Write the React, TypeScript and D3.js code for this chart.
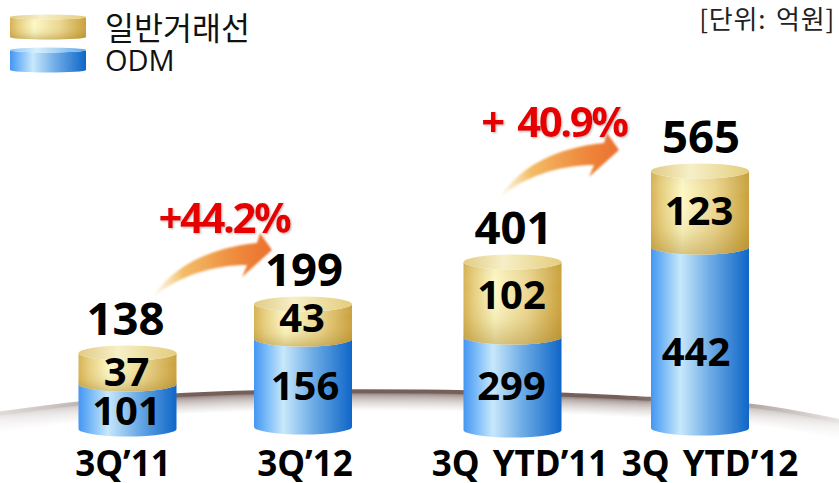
import React, { useEffect, useRef } from "react";
import * as d3 from "d3";

const categories = ["3Q’11", "3Q’12", "3Q YTD’11", "3Q YTD’12"];
const odmValues = [101, 156, 299, 442];
const generalValues = [37, 43, 102, 123];
const totals = [138, 199, 401, 565];
const growthLabels = ["+44.2%", "+ 40.9%"];
const legendLabels = ["일반거래선", "ODM"];
const unitLabel = "[단위: 억원]";

const WIDTH = 839;
const HEIGHT = 483;
const BAR_W = 98;
const CAP_RY = 7.5;
const LATIN = "'Open Sans', 'Noto Sans CJK KR', sans-serif";
const KOREAN = "'Noto Sans CJK KR', sans-serif";

// the source graphic is hand drawn, segment height is not proportional to value,
// so the height scale is piecewise to follow what the picture shows
const segmentHeight = d3.scaleLinear()
    .domain([0, 37, 43, 101, 102, 123, 156, 299, 442])
    .range([0, 31, 35, 45, 75, 76, 88, 93, 181]);

const xCenter = d3.scaleOrdinal<string, number>().domain(categories).range([127.5, 303, 512.5, 700]);
const yBase = d3.scaleOrdinal<string, number>().domain(categories).range([429, 427, 430, 428]);
const xLabel = d3.scaleOrdinal<string, number>().domain(categories).range([123, 305, 520, 710]);

// small label shifts from the segment middle, they were placed by hand in the original
const nudge = {
    odm: [4, 2, 2, 14],
    general: [3, -4, -5, 1],
};
const odmShiftX = [0, 3, 0, -3];

function cylinderPath(cx: number, top: number, bottom: number, w: number, ry: number) {
    const l = cx - w / 2;
    const r = cx + w / 2;
    const rx = w / 2;
    return `M${l},${top} L${l},${bottom} A${rx},${ry} 0 0 0 ${r},${bottom} L${r},${top} A${rx},${ry} 0 0 1 ${l},${top} Z`;
}

function addGradient(defs: any, id: string, stops: [number, string, number?][], vertical = false) {
    const g = defs.append("linearGradient")
        .attr("id", id)
        .attr("x1", 0).attr("y1", 0)
        .attr("x2", vertical ? 0 : 1).attr("y2", vertical ? 1 : 0);
    stops.forEach(([o, c, a]) => {
        g.append("stop")
            .attr("offset", o)
            .attr("stop-color", c)
            .attr("stop-opacity", a === undefined ? 1 : a);
    });
}

export default function App() {
    const ref = useRef<SVGSVGElement>(null);

    useEffect(() => {
        const svg = d3.select(ref.current);
        svg.selectAll("*").remove();
        const defs = svg.append("defs");

        addGradient(defs, "gold", [[0, "#d6b254"], [0.1, "#e6cd7c"], [0.32, "#fcf8c6"], [0.65, "#ecd791"], [1, "#c9a03a"]]);
        addGradient(defs, "goldShade", [[0, "#a88a3c", 0.12], [0.3, "#ffffff", 0], [0.7, "#a8842c", 0.1], [1, "#a07a20", 0.4]], true);
        addGradient(defs, "goldCap", [[0, "#e2cb84"], [0.4, "#f6efc8"], [1, "#e4cd7c"]]);
        addGradient(defs, "blue", [[0, "#4596f2"], [0.12, "#76b8f8"], [0.3, "#c8e8fb"], [0.6, "#6eace6"], [1, "#0f66c8"]]);
        addGradient(defs, "blueCap", [[0, "#8cc4f6"], [0.35, "#d6effc"], [1, "#64a8e8"]]);
        addGradient(defs, "arrow", [[0, "#f6dca0", 0.2], [0.25, "#f3bd68"], [0.7, "#ef8a3c"], [1, "#ea7030"]]);
        addGradient(defs, "groundFade", [[0, "#3a3a3a"], [0.1, "#777"], [0.22, "#fff"], [0.74, "#fff"], [0.9, "#888"], [1, "#2a2a2a"]]);

        defs.append("mask").attr("id", "groundMask")
            .attr("maskUnits", "userSpaceOnUse")
            .attr("x", 0).attr("y", 370).attr("width", WIDTH).attr("height", 70)
            .append("rect")
            .attr("x", 0).attr("y", 370).attr("width", WIDTH).attr("height", 70)
            .attr("fill", "url(#groundFade)");

        defs.append("filter").attr("id", "soft").append("feGaussianBlur").attr("stdDeviation", 0.8);

        const redShadow = defs.append("filter").attr("id", "redShadow");
        redShadow.append("feDropShadow")
            .attr("dx", 1).attr("dy", 1).attr("stdDeviation", 1)
            .attr("flood-color", "#999").attr("flood-opacity", 0.7);

        // ground swoosh behind the bars
        const groundCurve = d3.line<number[]>()
            .x(d => d[0]).y(d => d[1])
            .curve(d3.curveBasis);
        const groundTop = [[-5, 413], [78, 402], [177, 393], [300, 390], [420, 390], [560, 393], [650, 398], [750, 402], [834, 419], [845, 421]];
        const ground = svg.append("g").attr("mask", "url(#groundMask)");
        const shade = d3.interpolateRgb("#75605a", "#ffffff");
        d3.range(20, -1, -1).forEach(i => {
            const t = i < 3 ? 0 : Math.pow((i - 2) / 18, 0.45);
            ground.append("path")
                .attr("d", groundCurve(groundTop.map(p => [p[0], p[1] + i]))!)
                .attr("fill", "none")
                .attr("stroke", shade(t))
                .attr("stroke-width", 2);
        });

        // growth arrows
        const arrowShape = "M153,297 C170,270 205,248 257,243 L260,233 L272,250 L242,277 L247,265 C215,265 180,275 153,297 Z";
        [[0, 0], [347, -100]].forEach(([dx, dy]) => {
            svg.append("path")
                .attr("d", arrowShape)
                .attr("transform", `translate(${dx},${dy})`)
                .attr("fill", "url(#arrow)")
                .attr("filter", "url(#soft)");
        });

        // stacked cylinders, heights come from segmentHeight
        const rows = categories.map((c, i) => ({ category: c, odm: odmValues[i], general: generalValues[i] }));
        const series = d3.stack<any>()
            .keys(["odm", "general"])
            .value((d, key) => segmentHeight(d[key]))(rows);

        const drawCylinder = (g: any, cx: number, top: number, bottom: number, w: number, ry: number, key: string) => {
            g.append("path").attr("d", cylinderPath(cx, top, bottom, w, ry)).attr("fill", `url(#${key})`);
            if (key === "gold") {
                g.append("path").attr("d", cylinderPath(cx, top, bottom, w, ry)).attr("fill", "url(#goldShade)");
            }
            g.append("ellipse")
                .attr("cx", cx).attr("cy", top)
                .attr("rx", w / 2).attr("ry", ry)
                .attr("fill", key === "gold" ? "url(#goldCap)" : "url(#blueCap)");
        };

        const bars = svg.append("g");
        series.forEach(layer => {
            const key = layer.key === "odm" ? "blue" : "gold";
            layer.forEach((seg, i) => {
                const c = categories[i];
                const base = yBase(c);
                drawCylinder(bars, xCenter(c), base - seg[1], base - seg[0], BAR_W, CAP_RY, key);
            });
        });

        const labels = svg.append("g").attr("font-family", LATIN).attr("font-weight", 700).attr("fill", "#000");

        // segment values
        series.forEach(layer => {
            const isOdm = layer.key === "odm";
            const values = isOdm ? odmValues : generalValues;
            const shift = isOdm ? nudge.odm : nudge.general;
            layer.forEach((seg, i) => {
                const c = categories[i];
                const mid = yBase(c) - (seg[0] + seg[1]) / 2;
                labels.append("text")
                    .attr("x", xCenter(c) - 1 + (isOdm ? odmShiftX[i] : 0))
                    .attr("y", mid + shift[i] + 14.5)
                    .attr("text-anchor", "middle")
                    .attr("font-size", 40)
                    .text(values[i]);
            });
        });

        // totals above the caps
        series[1].forEach((seg, i) => {
            const c = categories[i];
            labels.append("text")
                .attr("x", xCenter(c) + (i === 0 ? -2 : 1))
                .attr("y", yBase(c) - seg[1] - CAP_RY - 11)
                .attr("text-anchor", "middle")
                .attr("font-size", 45.5)
                .text(totals[i]);
        });

        // category labels
        categories.forEach(c => {
            labels.append("text")
                .attr("x", xLabel(c))
                .attr("y", 476)
                .attr("text-anchor", "middle")
                .attr("font-size", 35)
                .attr("word-spacing", 4)
                .text(c);
        });

        // growth labels
        growthLabels.forEach((t, i) => {
            svg.append("text")
                .attr("x", i === 0 ? 224 : 554)
                .attr("y", i === 0 ? 233 : 137)
                .attr("text-anchor", "middle")
                .attr("font-family", LATIN)
                .attr("font-weight", 700)
                .attr("font-size", 42)
                .attr("letter-spacing", -2.5)
                .attr("word-spacing", i === 0 ? 0 : 6)
                .attr("fill", "#e60000")
                .attr("filter", "url(#redShadow)")
                .text(t);
        });

        // legend
        const legendY = d3.scalePoint<string>().domain(legendLabels).range([27, 60]);
        legendLabels.forEach((t, i) => {
            const y = legendY(t)!;
            const key = i === 0 ? "gold" : "blue";
            drawCylinder(svg, 48, y - 10, y + 10, 76, 2.5, key);
            svg.append("text")
                .attr("x", 105)
                .attr("y", i === 0 ? 40 : 71)
                .attr("font-family", i === 0 ? KOREAN : LATIN)
                .attr("font-size", i === 0 ? 31.5 : 29)
                .attr("fill", "#111")
                .text(t);
        });

        svg.append("text")
            .attr("x", 835)
            .attr("y", 29)
            .attr("text-anchor", "end")
            .attr("font-family", KOREAN)
            .attr("font-size", 26)
            .attr("letter-spacing", 0.8)
            .attr("word-spacing", 3)
            .attr("fill", "#222")
            .text(unitLabel);
    }, []);

    return (
        <svg
            ref={ref}
            width={WIDTH}
            height={HEIGHT}
            style={{ position: "absolute", left: 0, top: 0, display: "block", background: "#fff" }}
        />
    );
}
